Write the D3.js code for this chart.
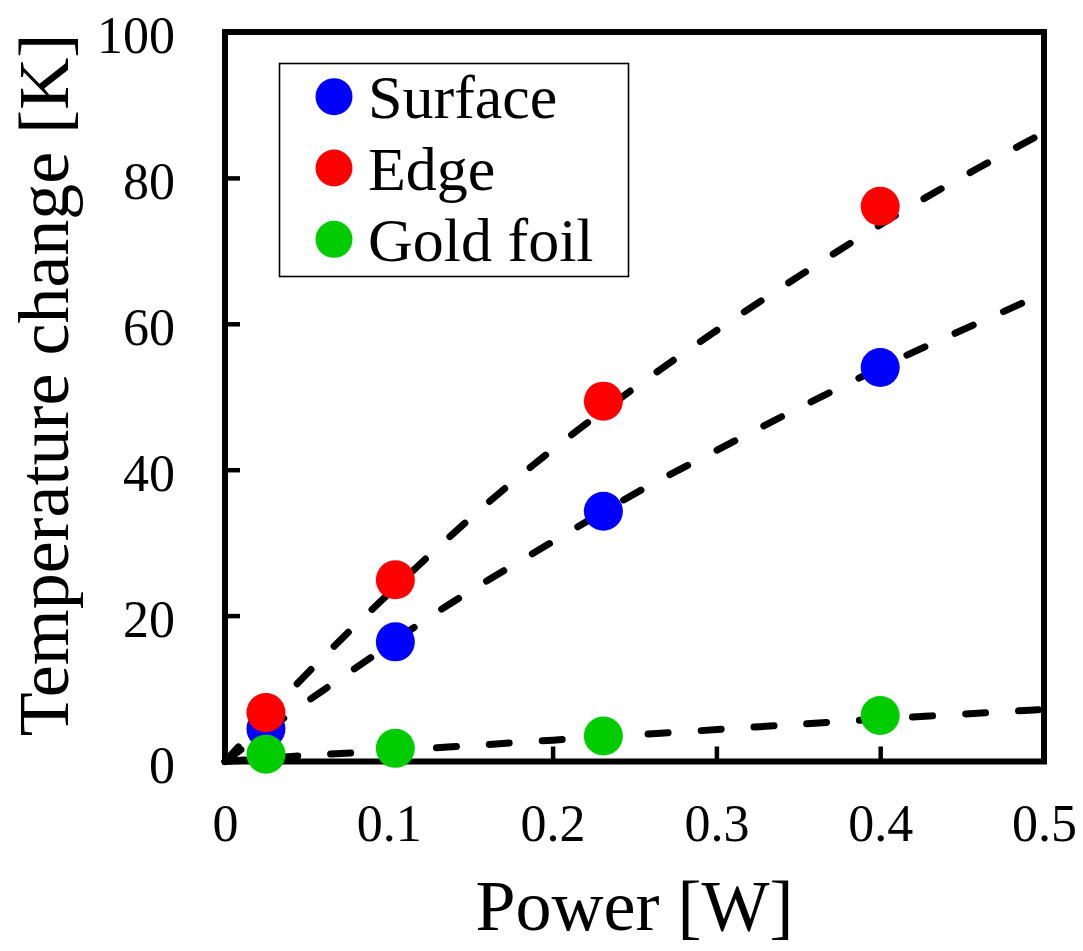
<!DOCTYPE html>
<html>
<head>
<meta charset="utf-8">
<script src="https://cdn.jsdelivr.net/npm/d3@7"></script>
<style>
  body { margin: 0; background: #fff; }
  svg { display: block; font-family: "Liberation Serif", "Times New Roman", serif; }
</style>
</head>
<body>
<svg id="chart" width="1083" height="951"></svg>
<script>
// ---------- data ----------
const seriesNames = ["Surface", "Edge", "Gold foil"];
const seriesColors = ["#0000ff", "#ff0000", "#00cc00"];

const powerW = [0.025, 0.104, 0.231, 0.4];
const surfaceK = [4.5, 16.4, 34.3, 54.0];
const edgeK = [6.7, 24.9, 49.4, 76.1];
const goldK = [1.0, 1.8, 3.5, 6.3];

// dashed fit curves
const surfaceFitX = [0, 0.051, 0.09, 0.131, 0.215, 0.256, 0.3, 0.343, 0.417, 0.461, 0.5];
const surfaceFitY = [0, 8.5, 14.3, 21.0, 32.1, 37.6, 42.6, 47.7, 55.9, 60.2, 64.2];
const edgeFitX = [0, 0.042, 0.078, 0.1435, 0.192, 0.245, 0.297, 0.352, 0.407, 0.463, 0.5];
const edgeFitY = [0, 10.3, 18.4, 32.3, 41.5, 50.5, 58.7, 66.8, 74.7, 81.8, 86.2];
const goldFitX = [0, 0.04, 0.072, 0.136, 0.2, 0.266, 0.332, 0.364, 0.429, 0.5];
const goldFitY = [0, 0.73, 1.09, 1.95, 2.94, 3.85, 4.86, 5.31, 6.23, 7.14];

const xTicks = [0, 0.1, 0.2, 0.3, 0.4, 0.5];
const xTickLabels = ["0", "0.1", "0.2", "0.3", "0.4", "0.5"];
const yTicks = [0, 20, 40, 60, 80, 100];
const yTickLabels = ["0", "20", "40", "60", "80", "100"];

// ---------- layout ----------
const svg = d3.select("#chart");
const plotLeft = 225, plotRight = 1044, plotTop = 32, plotBottom = 761.5;

const x = d3.scaleLinear().domain([0, 0.5]).range([plotLeft, plotRight]);
const y = d3.scaleLinear().domain([0, 100]).range([plotBottom, plotTop]);

svg.append("rect").attr("width", 1083).attr("height", 951).attr("fill", "#fff");

// axes with inward ticks
const xAxis = svg.append("g")
  .attr("transform", `translate(0,${plotBottom})`)
  .call(d3.axisBottom(x).tickValues(xTicks)
    .tickFormat((d, i) => xTickLabels[i])
    .tickSizeInner(-15).tickSizeOuter(0).tickPadding(43));

const yAxis = svg.append("g")
  .attr("transform", `translate(${plotLeft},0)`)
  .call(d3.axisLeft(y).tickValues(yTicks)
    .tickFormat((d, i) => yTickLabels[i])
    .tickSizeInner(-15).tickSizeOuter(0).tickPadding(50));

[xAxis, yAxis].forEach((g) => {
  g.select(".domain").remove();
  g.selectAll(".tick line").attr("stroke", "#000").attr("stroke-width", 4.5);
  g.selectAll(".tick text")
    .attr("fill", "#000")
    .style("font-size", "52px")
    .style("font-family", "Liberation Serif, Times New Roman, serif");
});
yAxis.selectAll(".tick text").attr("dy", "0.4em");

// frame
svg.append("rect")
  .attr("x", plotLeft).attr("y", plotTop)
  .attr("width", plotRight - plotLeft).attr("height", plotBottom - plotTop)
  .attr("fill", "none").attr("stroke", "#000").attr("stroke-width", 6);

// axis titles
svg.append("text")
  .attr("x", (plotLeft + plotRight) / 2).attr("y", 930)
  .attr("text-anchor", "middle")
  .style("font-size", "72px")
  .text("Power [W]");

svg.append("text")
  .attr("transform", "translate(68,385) rotate(-90)")
  .attr("text-anchor", "middle")
  .style("font-size", "72px")
  .text("Temperature change [K]");

// ---------- fit lines ----------
const fits = [
  d3.zip(surfaceFitX, surfaceFitY),
  d3.zip(edgeFitX, edgeFitY),
  d3.zip(goldFitX, goldFitY),
];
const line = d3.line()
  .x((d) => x(d[0]))
  .y((d) => y(d[1]))
  .curve(d3.curveBasis);

svg.append("g")
  .selectAll("path")
  .data(fits)
  .join("path")
  .attr("d", line)
  .attr("fill", "none")
  .attr("stroke", "#000")
  .attr("stroke-width", 7)
  .attr("stroke-linecap", "round")
  .attr("stroke-dasharray", "20 33");

// ---------- points ----------
const series = [surfaceK, edgeK, goldK];
series.forEach((vals, s) => {
  svg.append("g")
    .selectAll("circle")
    .data(vals)
    .join("circle")
    .attr("cx", (d, i) => x(powerW[i]))
    .attr("cy", (d) => y(d))
    .attr("r", 19.5)
    .attr("fill", seriesColors[s]);
});

// ---------- legend ----------
const legend = svg.append("g");
legend.append("rect")
  .attr("x", 279.5).attr("y", 63.5)
  .attr("width", 349).attr("height", 213)
  .attr("fill", "#fff").attr("stroke", "#000").attr("stroke-width", 1.6);

const legendRows = legend.selectAll("g.row")
  .data(seriesNames)
  .join("g")
  .attr("class", "row")
  .attr("transform", (d, i) => `translate(0,${96.7 + i * 71.3})`);

legendRows.append("circle")
  .attr("cx", 334).attr("cy", 0).attr("r", 18.5)
  .attr("fill", (d, i) => seriesColors[i]);

legendRows.append("text")
  .attr("x", 368).attr("y", 21.5)
  .style("font-size", "62px")
  .text((d) => d);
</script>
</body>
</html>
